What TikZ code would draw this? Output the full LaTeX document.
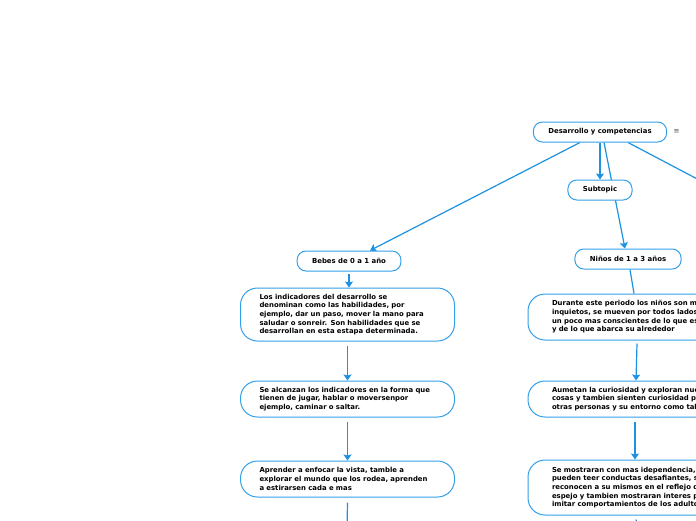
\documentclass[tikz,border=0pt]{standalone}
\usepackage{fontspec}
\setmainfont{DejaVu Sans}
\usepackage{tikz}
\usetikzlibrary{arrows.meta, positioning, backgrounds}
\definecolor{linkblue}{RGB}{28,146,224}
\definecolor{boxblue}{RGB}{52,160,232}
\tikzstyle{topic} = [rectangle, rounded corners=9pt, minimum height=20pt, inner xsep=15pt, inner ysep=2pt, text centered, draw=boxblue, line width=1pt, fill=white, font=\fontsize{6.9}{8}\selectfont\bfseries]
\tikzstyle{leftbox} = [rectangle, rounded corners=17pt, text width=176pt, align=left, inner xsep=19pt, inner ysep=2pt, draw=boxblue, line width=1pt, fill=white, font=\fontsize{6.9}{8.7}\selectfont\bfseries]
\tikzstyle{rightbox} = [leftbox, inner xsep=24pt]
\tikzstyle{arrow} = [line width=1.2pt, draw=linkblue, -{Stealth[length=6pt,width=8pt,inset=1pt]}]
\tikzstyle{link} = [line width=1.2pt, draw=linkblue]

\begin{document}
\begin{tikzpicture}[x=1pt, y=-1pt]
        \useasboundingbox (0,0) rectangle (696,520);
        \node (root) [topic] at (600,132) {Desarrollo y competencias};
        \node (menu) [right=3pt of root, font=\fontsize{7}{8}\selectfont, text=black!70] {≡};
        \node (subtopic) [topic, below of=root, node distance=58pt] {Subtopic};
        \node (bebes) [topic] at (349,261) {Bebes de 0 a 1 año};
        \node (ninos) [topic] at (628,259) {Niños de 1 a 3 años};

        \node (ind) [leftbox, below of=bebes, node distance=53.5pt, xshift=-1.5pt, minimum height=53pt]{Los indicadores del desarrollo se\\ denominan como las habilidades, por\\ ejemplo, dar un paso, mover la mano para\\ saludar o sonreir. Son habilidades que se\\ desarrollan en esta estapa determinada.};
        \node (alcanzan) [leftbox, below of=ind, node distance=84.5pt, minimum height=36pt]{Se alcanzan los indicadores en la forma que\\ tienen de jugar, hablar o moversenpor\\ ejemplo, caminar o saltar.};
        \node (enfocar) [leftbox, below of=alcanzan, node distance=80pt, minimum height=36pt]{Aprender a enfocar la vista, tamble a\\ explorar el mundo que los rodea, aprenden\\ a estirarsen cada e mas};

        \node (durante) [rightbox, below of=ninos, node distance=58pt, xshift=12pt, minimum height=46pt]{Durante este periodo los niños son mas\\ inquietos, se mueven por todos lados,\\ un poco mas conscientes de lo que es\\ y de lo que abarca su alrededor};
        \node (aumentan) [rightbox, below of=durante, node distance=82pt, minimum height=36pt]{Aumetan la curiosidad y exploran nuevas\\ cosas y tambien sienten curiosidad por\\ otras personas y su entorno como tal};
        \node (mostraran) [rightbox, below of=aumentan, node distance=88.5pt, minimum height=55pt]{Se mostraran con mas idependencia,\\ pueden teer conductas desafiantes, se\\ reconocen a su mismos en el reflejo del\\ espejo y tambien mostraran interes por\\ imitar comportamientos de los adultos};

        \coordinate (offright) at (760,212);
        \coordinate (offleft) at (347,530);
        \coordinate (offbottom) at (638,530);

        \begin{scope}[on background layer]
        \draw [arrow] ([xshift=-20pt]root.south) -- ([xshift=21pt]bebes.north);
        \draw [arrow] (root.south) -- (subtopic.north);
        \draw [arrow] ([xshift=4pt]root.south) -- ([xshift=-3pt]ninos.north);
        \draw [link] ([xshift=28pt]root.south) -- (offright);
        \draw [arrow] ([yshift=-2pt]bebes.south) -- ([xshift=1.5pt]ind.north);
        \draw [arrow] ([yshift=-4pt]ind.south) -- (alcanzan.north);
        \draw [arrow] ([yshift=-4pt]alcanzan.south) -- (enfocar.north);
        \draw [link] ([yshift=-5pt]enfocar.south) -- (offleft);
        \draw [link] ([xshift=2pt]ninos.south) -- ([xshift=-6pt]durante.north);
        \draw [arrow] ([xshift=-3pt,yshift=-3pt]durante.south) -- ([xshift=-4pt]aumentan.north);
        \draw [arrow] ([xshift=-5pt,yshift=-4pt]aumentan.south) -- ([xshift=-5pt]mostraran.north);
        \draw [link] ([xshift=-4pt,yshift=-4pt]mostraran.south) -- (offbottom);
        \end{scope}
        \end{tikzpicture}
\end{document}
